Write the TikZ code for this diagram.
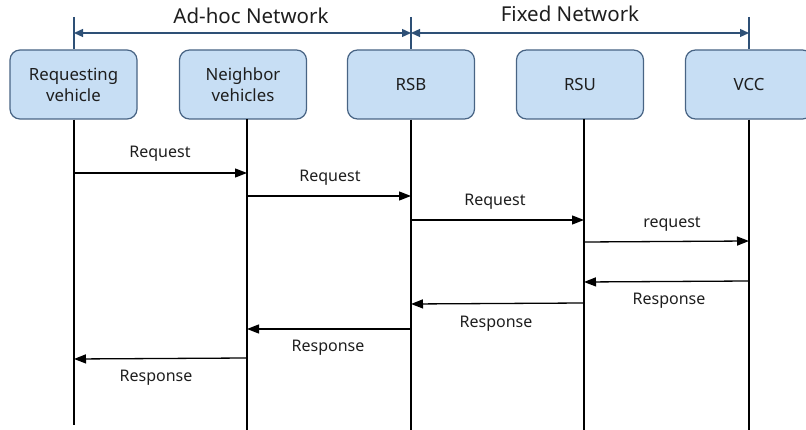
\documentclass[tikz,border=0pt]{standalone}
\usepackage{fontspec}
\setmainfont{Noto Sans}
\usetikzlibrary{arrows.meta}
\definecolor{boxfill}{RGB}{199,222,244}
\definecolor{boxline}{RGB}{72,100,132}
\definecolor{netblue}{RGB}{46,80,118}
\definecolor{txt}{RGB}{30,30,30}
\tikzset{
  actor/.style={draw=boxline, line width=1.2pt, fill=boxfill, rounded corners=10pt,
    minimum width=127pt, minimum height=69pt, align=center, text=txt,
    font=\fontsize{16.8}{21}\selectfont},
  life/.style={draw=black, line width=1.3pt},
  tick/.style={draw=netblue, line width=1.2pt},
  span/.style={draw=netblue, line width=1.3pt, {Triangle[length=9pt,width=8pt]}-{Triangle[length=9pt,width=8pt]}},
  msg/.style={draw=black, line width=1.3pt, -{Triangle[length=12pt,width=9pt]}},
  lbl/.style={text=txt, font=\fontsize{16}{19}\selectfont},
  net/.style={text=txt, font=\fontsize{20.5}{24}\selectfont}
}
\begin{document}
\begin{tikzpicture}[x=1pt, y=-1pt]
\useasboundingbox (0,0) rectangle (806,430);

% participants
\node[actor] (rv)  at (73.5,84.5) {Requesting\\vehicle};
\node[actor] (nv)  at (243,84.5)  {Neighbor\\vehicles};
\node[actor] (rsb) at (411,84.5)  {RSB};
\node[actor] (rsu) at (580,84.5)  {RSU};
\node[actor] (vcc) at (749,84.5)  {VCC};

% lifeline anchors
\coordinate (rvT)  at (74,17);   \coordinate (rvB)  at (74,425);
\coordinate (nvT)  at (247,119); \coordinate (nvB)  at (247,430);
\coordinate (rsbT) at (411,17);  \coordinate (rsbB) at (411,430);
\coordinate (rsuT) at (584,119); \coordinate (rsuB) at (584,430);
\coordinate (vccT) at (749,17);  \coordinate (vccB) at (749,430);

% network ticks above the boxes
\draw[tick] (rvT)  -- (rvT |- rv.north);
\draw[tick] (rsbT) -- (rsbT |- rsb.north);
\draw[tick] (vccT) -- (vccT |- vcc.north);

% lifelines below the boxes
\draw[life] (rvB  |- rv.south)  -- (rvB);
\draw[life] (nvT)  -- (nvB);
\draw[life] (rsbB |- rsb.south) -- (rsbB);
\draw[life] (rsuT) -- (rsuB);
\draw[life] (vccB |- vcc.south) -- (vccB);

% network spans
\coordinate (spanY) at (0,33);
\draw[span] (rvT |- spanY) -- (rsbT |- spanY);
\draw[span] (rsbT |- spanY) -- (vccT |- spanY);
\node[net] (adhoc) at (251,16) {Ad-hoc Network};
\node[net] (fixed) at (570,14) {Fixed Network};

% request messages
\draw[msg] (rvT  |- 0,173) -- (nvT  |- 0,173);
\node[lbl] (q1) at (160,154) {Request};
\draw[msg] (nvT  |- 0,196) -- (rsbT |- 0,196);
\node[lbl] (q2) at (330,178) {Request};
\draw[msg] (rsbT |- 0,220) -- (rsuT |- 0,220);
\node[lbl] (q3) at (495,202) {Request};
\draw[msg] (rsuT |- 0,242) -- (vccT |- 0,241);
\node[lbl] (q4) at (672,224) {request};

% response messages
\draw[msg] (vccT |- 0,281) -- (rsuT |- 0,282);
\node[lbl] (r1) at (669,301) {Response};
\draw[msg] (rsuT |- 0,303) -- (rsbT |- 0,304);
\node[lbl] (r2) at (496,324) {Response};
\draw[msg] (rsbT |- 0,329) -- (nvT  |- 0,329);
\node[lbl] (r3) at (328,348) {Response};
\draw[msg] (nvT  |- 0,358) -- (rvT  |- 0,359);
\node[lbl] (r4) at (156,378) {Response};
\end{tikzpicture}
\end{document}
